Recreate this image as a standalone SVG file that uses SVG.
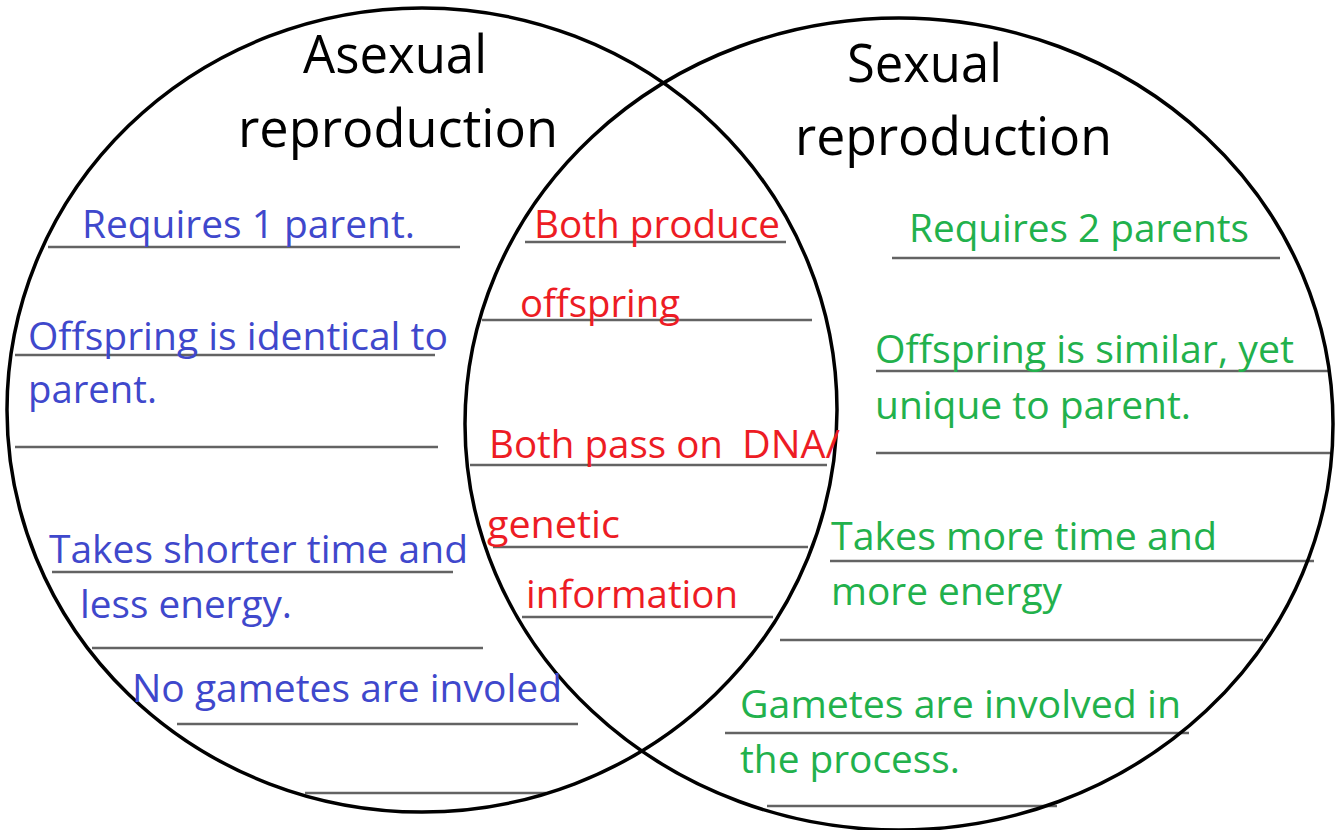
<svg xmlns="http://www.w3.org/2000/svg" width="1339" height="830" viewBox="0 0 1339 830">
<style>
.bg{fill:#ffffff}
.ring{fill:none;stroke:#000000;stroke-width:3.5}
.rule{stroke:#636363;stroke-width:2.4;fill:none}
text{font-family:"Open Sans","Noto Sans","Liberation Sans",sans-serif}
.title{fill:#000000;font-size:53px}
.body{font-size:39px}
.blue{fill:#3F48CC}
.red{fill:#ED1C24}
.green{fill:#22B14C}
</style>
<rect class="bg" x="0" y="0" width="1339" height="830"/>
<g id="rules">
<line class="rule" x1="48" y1="247" x2="460" y2="247"/>
<line class="rule" x1="15" y1="355" x2="435" y2="355"/>
<line class="rule" x1="15" y1="447" x2="438" y2="447"/>
<line class="rule" x1="52" y1="572" x2="453" y2="572"/>
<line class="rule" x1="92" y1="648" x2="483" y2="648"/>
<line class="rule" x1="177" y1="724" x2="578" y2="724"/>
<line class="rule" x1="305" y1="793" x2="546" y2="793"/>
<line class="rule" x1="525" y1="242" x2="786" y2="242"/>
<line class="rule" x1="482" y1="320" x2="812" y2="320"/>
<line class="rule" x1="470" y1="465" x2="827" y2="465"/>
<line class="rule" x1="493" y1="547" x2="808" y2="547"/>
<line class="rule" x1="522" y1="617" x2="773" y2="617"/>
<line class="rule" x1="892" y1="258" x2="1280" y2="258"/>
<line class="rule" x1="876" y1="371" x2="1330" y2="371"/>
<line class="rule" x1="876" y1="453" x2="1330" y2="453"/>
<line class="rule" x1="830" y1="561" x2="1314" y2="561"/>
<line class="rule" x1="780" y1="640" x2="1263" y2="640"/>
<line class="rule" x1="725" y1="733" x2="1189" y2="733"/>
<line class="rule" x1="767" y1="806" x2="1057" y2="806"/>
</g>
<g id="asexual">
<ellipse class="ring" cx="422" cy="410" rx="415" ry="402"/>
<text class="title" x="303" y="73" textLength="184" lengthAdjust="spacingAndGlyphs">Asexual</text>
<text class="title" x="238" y="147" textLength="320" lengthAdjust="spacingAndGlyphs">reproduction</text>
</g>
<g id="sexual">
<ellipse class="ring" cx="899" cy="424" rx="434" ry="406"/>
<text class="title" x="847" y="82" textLength="155" lengthAdjust="spacingAndGlyphs">Sexual</text>
<text class="title" x="795" y="155" textLength="317" lengthAdjust="spacingAndGlyphs">reproduction</text>
</g>
<g id="asexual-traits">
<text class="body blue" x="82" y="238" textLength="333" lengthAdjust="spacingAndGlyphs">Requires 1 parent.</text>
<text class="body blue" x="28" y="350" textLength="420" lengthAdjust="spacingAndGlyphs">Offspring is identical to</text>
<text class="body blue" x="28" y="403" textLength="129" lengthAdjust="spacingAndGlyphs">parent.</text>
<text class="body blue" x="49" y="563" textLength="419" lengthAdjust="spacingAndGlyphs">Takes shorter time and</text>
<text class="body blue" x="80" y="618" textLength="212" lengthAdjust="spacingAndGlyphs">less energy.</text>
<text class="body blue" x="132" y="702" textLength="430" lengthAdjust="spacingAndGlyphs">No gametes are involed</text>
</g>
<g id="shared-traits">
<text class="body red" x="534" y="238" textLength="246" lengthAdjust="spacingAndGlyphs">Both produce</text>
<text class="body red" x="520" y="317" textLength="160" lengthAdjust="spacingAndGlyphs">offspring</text>
<text class="body red" x="489" y="458" textLength="234" lengthAdjust="spacingAndGlyphs">Both pass on</text>
<text class="body red" x="742" y="458" textLength="98" lengthAdjust="spacingAndGlyphs">DNA/</text>
<text class="body red" x="487" y="538" textLength="133" lengthAdjust="spacingAndGlyphs">genetic</text>
<text class="body red" x="526" y="608" textLength="212" lengthAdjust="spacingAndGlyphs">information</text>
</g>
<g id="sexual-traits">
<text class="body green" x="909" y="242" textLength="340" lengthAdjust="spacingAndGlyphs">Requires 2 parents</text>
<text class="body green" x="875" y="363" textLength="419" lengthAdjust="spacingAndGlyphs">Offspring is similar, yet</text>
<text class="body green" x="875" y="419" textLength="316" lengthAdjust="spacingAndGlyphs">unique to parent.</text>
<text class="body green" x="831" y="550" textLength="386" lengthAdjust="spacingAndGlyphs">Takes more time and</text>
<text class="body green" x="831" y="605" textLength="231" lengthAdjust="spacingAndGlyphs">more energy</text>
<text class="body green" x="740" y="718" textLength="441" lengthAdjust="spacingAndGlyphs">Gametes are involved in</text>
<text class="body green" x="740" y="773" textLength="220" lengthAdjust="spacingAndGlyphs">the process.</text>
</g>
</svg>
